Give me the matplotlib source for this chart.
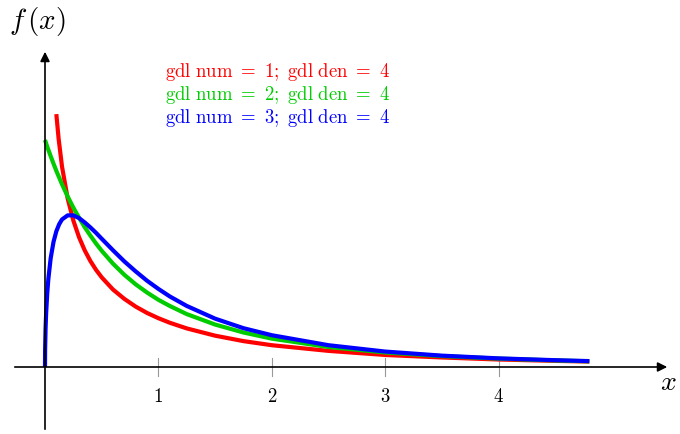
import matplotlib.pyplot as plt

plt.rcParams['mathtext.fontset'] = 'cm'
plt.rcParams['font.family'] = 'serif'
plt.rcParams['font.serif'] = ['DejaVu Serif']

# densidades
x_red = [0.1, 0.12, 0.15, 0.2, 0.25, 0.3, 0.35, 0.4, 0.45, 0.5, 0.6, 0.7, 0.8, 0.9, 1.0, 1.1, 1.25, 1.5, 1.75, 2.0, 2.5, 3.0, 3.5, 4.0, 4.5, 4.8]
y_red = [1.114, 1.006, 0.883, 0.742, 0.645, 0.572, 0.514, 0.467, 0.428, 0.395, 0.341, 0.300, 0.266, 0.238, 0.215, 0.195, 0.170, 0.138, 0.114, 0.096, 0.071, 0.053, 0.042, 0.033, 0.027, 0.024]

x_green = [0.0, 0.025, 0.05, 0.075, 0.1, 0.15, 0.2, 0.25, 0.3, 0.35, 0.4, 0.45, 0.5, 0.6, 0.7, 0.8, 0.9, 1.0, 1.1, 1.25, 1.5, 1.75, 2.0, 2.5, 3.0, 3.5, 4.0, 4.5, 4.8]
y_green = [1.0, 0.963, 0.929, 0.896, 0.864, 0.805, 0.751, 0.702, 0.658, 0.616, 0.579, 0.544, 0.512, 0.455, 0.406, 0.364, 0.328, 0.296, 0.269, 0.233, 0.187, 0.152, 0.125, 0.088, 0.064, 0.048, 0.037, 0.029, 0.025]

x_blue = [0.0, 0.001, 0.005, 0.01, 0.02, 0.03, 0.05, 0.075, 0.1, 0.125, 0.15, 0.2, 0.25, 0.3, 0.35, 0.4, 0.45, 0.5, 0.6, 0.7, 0.8, 0.9, 1.0, 1.1, 1.25, 1.5, 1.75, 2.0, 2.5, 3.0, 3.5, 4.0, 4.5, 4.8]
y_blue = [0.0, 0.077, 0.170, 0.237, 0.327, 0.390, 0.479, 0.551, 0.598, 0.629, 0.650, 0.668, 0.668, 0.656, 0.637, 0.615, 0.591, 0.565, 0.514, 0.465, 0.421, 0.380, 0.344, 0.311, 0.269, 0.213, 0.171, 0.140, 0.096, 0.068, 0.050, 0.038, 0.030, 0.026]

gdl_num = [1, 2, 3]
gdl_den = [4, 4, 4]
colors = ['#ff0000', '#00cc00', '#0000ff']
xticks = [1, 2, 3, 4]

fig = plt.figure(figsize=(6.8, 4.35), dpi=100)
ax = fig.add_axes([0, 0, 1, 1])
ax.set_xlim(-45 / 113.4, 635 / 113.4)
ax.set_ylim(-67 / 227, 368 / 227)
ax.axis('off')

# ejes con flecha
ax.annotate('', xy=(625 / 113.4, 0), xytext=(-33 / 113.4, 0),
            arrowprops=dict(arrowstyle='-|>', color='black', lw=1.2, mutation_scale=14))
ax.annotate('', xy=(0, 318 / 227), xytext=(0, -65 / 227),
            arrowprops=dict(arrowstyle='-|>', color='black', lw=1.2, mutation_scale=14))

for t in xticks:
    ax.plot([t, t], [-9 / 227, 9 / 227], color='#999999', lw=0.8)
    ax.text(t, -29 / 227, '$%d$' % t, ha='center', va='center', fontsize=13.5)

ax.plot(x_red, y_red, color=colors[0], lw=3, solid_capstyle='butt')
ax.plot(x_green, y_green, color=colors[1], lw=3, solid_capstyle='butt')
ax.plot(x_blue, y_blue, color=colors[2], lw=3, solid_capstyle='butt')

ax.text(623 / 113.4, -15 / 227, '$x$', ha='center', va='center', fontsize=20)
ax.text(-8 / 113.4, 346 / 227, '$f\\,(x)$', ha='center', va='center', fontsize=21)

for i in range(3):
    s = '$\\mathrm{gdl\\ num}\\ =\\ %d;\\ \\mathrm{gdl\\ den}\\ =\\ %d$' % (gdl_num[i], gdl_den[i])
    ax.text(120 / 113.4, (368 - 72 - 23 * i) / 227, s, color=colors[i], ha='left', va='center', fontsize=13.5)

fig.savefig('out.png', dpi=100)
